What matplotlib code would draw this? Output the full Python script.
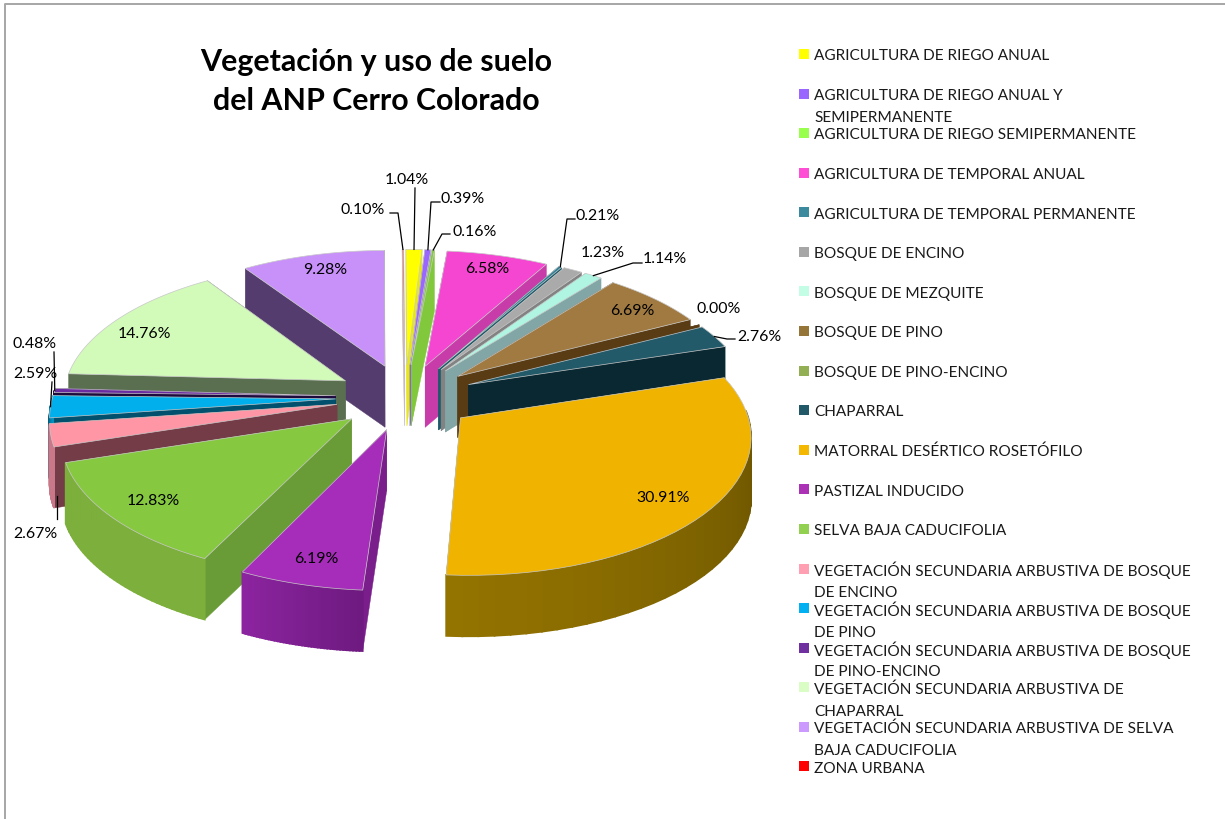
"""Vegetacion y uso de suelo: exploded 3D pie drawn with matplotlib polygons."""

import numpy as np
import matplotlib
matplotlib.use("Agg")
import matplotlib.pyplot as plt
from matplotlib.patches import Polygon, Rectangle

plt.rcParams["font.family"] = ["Lato", "DejaVu Sans"]

categories = [
    "AGRICULTURA DE RIEGO ANUAL",
    "AGRICULTURA DE RIEGO ANUAL Y\nSEMIPERMANENTE",
    "AGRICULTURA DE RIEGO SEMIPERMANENTE",
    "AGRICULTURA DE TEMPORAL ANUAL",
    "AGRICULTURA DE TEMPORAL PERMANENTE",
    "BOSQUE DE ENCINO",
    "BOSQUE DE MEZQUITE",
    "BOSQUE DE PINO",
    "BOSQUE DE PINO-ENCINO",
    "CHAPARRAL",
    "MATORRAL DESÉRTICO ROSETÓFILO",
    "PASTIZAL INDUCIDO",
    "SELVA BAJA CADUCIFOLIA",
    "VEGETACIÓN SECUNDARIA ARBUSTIVA DE BOSQUE\nDE ENCINO",
    "VEGETACIÓN SECUNDARIA ARBUSTIVA DE BOSQUE\nDE PINO",
    "VEGETACIÓN SECUNDARIA ARBUSTIVA DE BOSQUE\nDE PINO-ENCINO",
    "VEGETACIÓN SECUNDARIA ARBUSTIVA DE\nCHAPARRAL",
    "VEGETACIÓN SECUNDARIA ARBUSTIVA DE SELVA\nBAJA CADUCIFOLIA",
    "ZONA URBANA",
]
values = [1.04, 0.39, 0.16, 6.58, 0.21, 1.23, 1.14, 6.69, 0.00, 2.76,
          30.91, 6.19, 12.83, 2.67, 2.59, 0.48, 14.76, 9.28, 0.10]

legend_colors = ["#ffff00", "#9966ff", "#99ff4d", "#ff4dd6", "#3c8a9e", "#a6a6a6",
                 "#c4fde5", "#967539", "#92af54", "#215968", "#f4b800", "#ab31b5",
                 "#92d050", "#ff9fb1", "#00b0f0", "#7030a0", "#d9fdc5", "#cc99ff",
                 "#ff0000"]
top_colors = ["#ffff00", "#9966ff", "#82c83c", "#f546d2", "#2f7f93", "#aaaaaa",
              "#aff5e1", "#a07a41", "#92af54", "#235a69", "#f0b400", "#a52db9",
              "#87c841", "#ff96a5", "#00afeb", "#6a2ca0", "#d2fab9", "#c891fa",
              "#e8503c"]
wall_colors = ["#e6e61e", "#8a5ae6", "#82c83c", "#c83caa", "#1d5a6b", "#828282",
               "#82a5a5", "#5a3c14", "#5a3c14", "#0a2832", "#8c6e00", "#7a1e8c",
               "#699b37", "#733c46", "#00506e", "#1e0a3c", "#5a6e50", "#553c6e",
               "#c8b4b4"]
# outer wall colour at the start and end of each arc
outer_start = ["#b0b040", "#6a48b0", "#6aa030", "#c83caa", "#1d5a6b", "#828282",
               "#82a5a5", "#5a3c14", "#6a7f3a", "#0a2832", "#644e00", "#6e1a80",
               "#7daf3c", "#c87888", "#00506e", "#1e0a3c", "#5a6e50", "#553c6e",
               "#a03020"]
outer_end = ["#b0b040", "#6a48b0", "#6aa030", "#c83caa", "#1d5a6b", "#828282",
             "#82a5a5", "#5a3c14", "#6a7f3a", "#0a2832", "#947400", "#8c24a0",
             "#7daf3c", "#c87888", "#0090c0", "#1e0a3c", "#5a6e50", "#553c6e",
             "#a03020"]

label_x = [407, 463, 475, 487, 598, 603, 665, 632, 719, 759,
           663, 316, 153, 35, 35, 35, 144, 325, 363]
label_y = [180, 199, 232, 269, 216, 253, 259, 311, 309, 337,
           498, 559, 501, 534, 374, 344, 334, 270, 210]
# leader lines start at the label, end on the slice (index: bend points)
leader_bends = {
    0: [(415, 189)],
    1: [(440, 203), (431, 203)],
    2: [(450, 235), (442, 235)],
    4: [(575, 220), (567, 220)],
    6: [(642, 264), (633, 264)],
    9: [(735, 340), (727, 340)],
    13: [(57, 520), (57, 497)],
    14: [(52, 383)],
    15: [(54, 353)],
    18: [(390, 214), (398, 214)],
}
title_lines = ["Vegetación y uso de suelo", "del ANP Cerro Colorado"]

# projection of the pie plane, in picture pixels
VX, OX, CY = 396, 9, 398
RX, KY, PERSP = 283, 135, 9.0
EXPLODE = 0.245
DEPTH = 61


def project(x, y, z=0.0):
    s = PERSP / (PERSP + y)
    return VX + (OX + RX * x) * s, CY - KY * y * s + z


fig = plt.figure(figsize=(12.25, 8.2), dpi=100)
ax = fig.add_axes([0, 0, 1, 1])
ax.set_xlim(0, 1225)
ax.set_ylim(820, 0)
ax.axis("off")

# chart frame
ax.plot([5, 5, 1225], [820, 5, 5], color="#a6a6a6", lw=1.4)

edges = np.cumsum([0] + values) / sum(values) * 2 * np.pi
mids = (edges[:-1] + edges[1:]) / 2

# back slices first, so the front ones cover them
for i in np.argsort(-np.cos(mids)):
    a0, a1 = edges[i], edges[i + 1]
    ex, ey = EXPLODE * np.sin(mids[i]), EXPLODE * np.cos(mids[i])
    angles = np.linspace(a0, a1, 40)
    ax_pts = ex + np.sin(angles)
    ay_pts = ey + np.cos(angles)

    apex = project(ex, ey)
    apex_low = project(ex, ey, DEPTH)
    for a in (a0, a1):
        outer = (ex + np.sin(a), ey + np.cos(a))
        ax.add_patch(Polygon([apex, project(*outer), project(*outer, DEPTH), apex_low],
                             fc=wall_colors[i], ec=wall_colors[i], lw=0.3))

    # outer wall, only the part facing the viewer
    c0 = np.array(matplotlib.colors.to_rgb(outer_start[i]))
    c1 = np.array(matplotlib.colors.to_rgb(outer_end[i]))
    for j in range(len(angles) - 1):
        if np.cos((angles[j] + angles[j + 1]) / 2) > 0.05:
            continue
        col = c0 + (c1 - c0) * j / (len(angles) - 2)
        p, q = (ax_pts[j], ay_pts[j]), (ax_pts[j + 1], ay_pts[j + 1])
        ax.add_patch(Polygon([project(*p), project(*q), project(*q, DEPTH), project(*p, DEPTH)],
                             fc=col, ec=col, lw=1.2))

    top = [apex] + [project(x, y) for x, y in zip(ax_pts, ay_pts)]
    ax.add_patch(Polygon(top, fc=top_colors[i], ec="#c8c8c8", lw=0.5 if values[i] > 0 else 0))

# percentage labels and their leader lines
for i, v in enumerate(values):
    ax.text(label_x[i], label_y[i], f"{v:.2f}%", ha="center", va="center",
            fontsize=11.4, color="black")
    if i in leader_bends:
        if i == 13:
            pts = leader_bends[i]
        else:
            end = project((EXPLODE + 1) * np.sin(mids[i]), (EXPLODE + 1) * np.cos(mids[i]))
            pts = leader_bends[i] + [end]
        ax.plot([p[0] for p in pts], [p[1] for p in pts], color="black", lw=0.9)

# legend, lines overlap the way the original wraps them
for i, name in enumerate(categories):
    y = 55 + i * 39.58
    ax.add_patch(Rectangle((799, y - 5), 10, 10, fc=legend_colors[i], ec="none"))
    for k, line in enumerate(name.split("\n")):
        ax.text(814, y + 1.2 + k * 22.3, line, ha="left", va="center", fontsize=11.1,
                color="#1a1a1a")

for k, line in enumerate(title_lines):
    ax.text(376, 61.5 + k * 40, line, ha="center", va="center", fontsize=21.85,
            fontweight="bold", color="black")

fig.savefig("out.png", dpi=100)
